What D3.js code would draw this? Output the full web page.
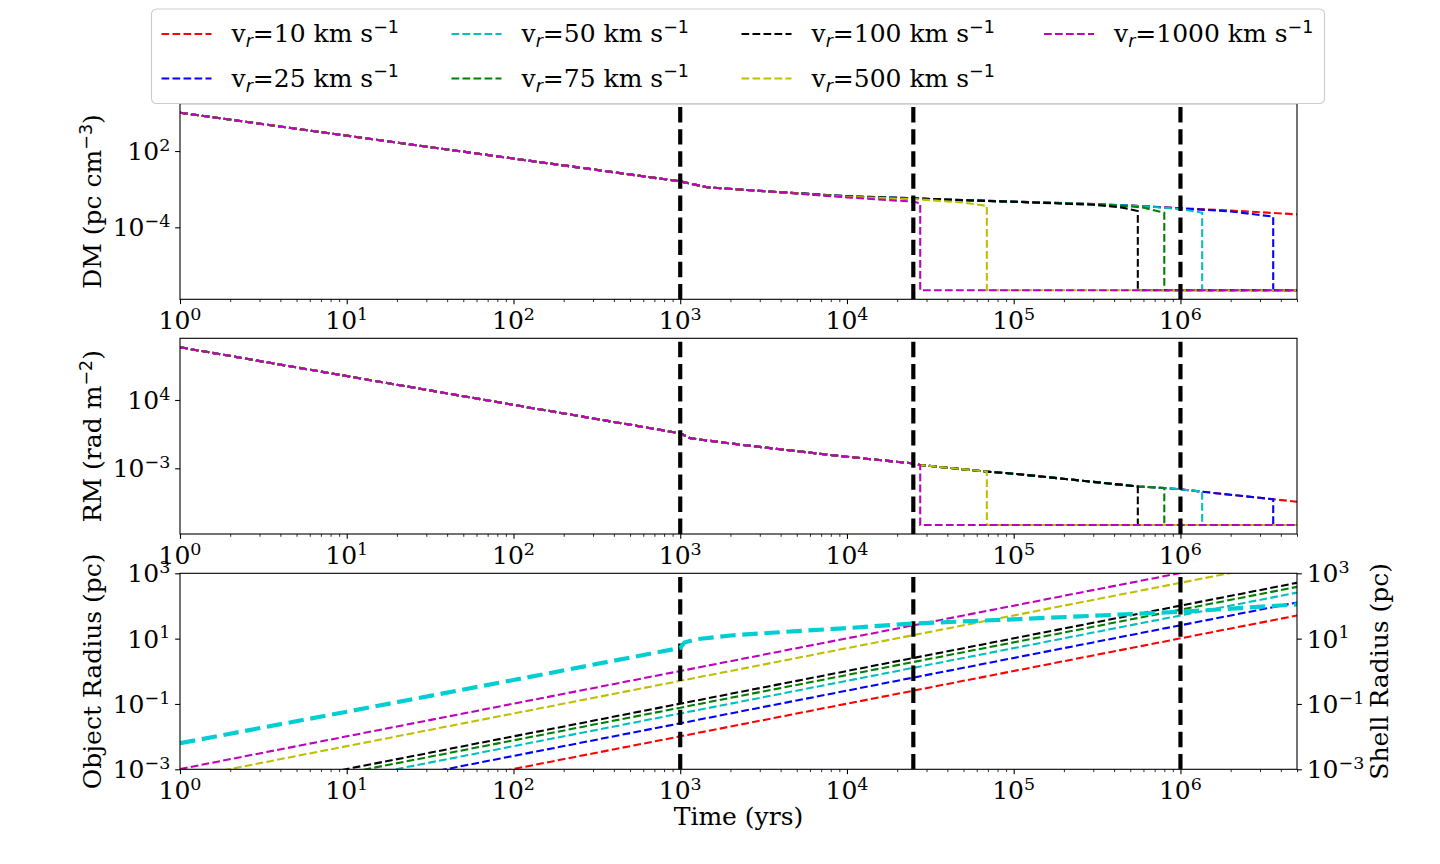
<!DOCTYPE html>
<html>
<head>
<meta charset="utf-8">
<script src="https://cdn.jsdelivr.net/npm/d3@7/dist/d3.min.js"></script>
<style>
  body { margin: 0; background: #fff; }
  text { font-family: "DejaVu Serif", serif; fill: #000; }
</style>
</head>
<body>
<svg id="chart" width="1440" height="864"></svg>
<script>
// ---- data ----
var speeds = [10, 25, 50, 75, 100, 500, 1000];          // km/s
var colors = ['#ff0000', '#0000ff', '#00bfbf', '#008000', '#000000', '#bfbf00', '#bf00bf'];
var dropTime = [null, 3.6e6, 1.35e6, 8.0e5, 5.55e5, 6.9e4, 2.75e4];   // yrs where DM/RM fall to floor
var markTimes = [1e3, 2.5e4, 1e6];
var tMax = 5e6;

// DM (pc cm^-3)
var dmFloor = 1.12e-9;
var dmShared = [[1, 1.02e5], [10, 1.62e3], [100, 25.7], [1000, 0.41], [1450, 0.141], [3600, 0.063]];
var dmTail = [
  [[1e4, 0.0282], [2.5e4, 0.0191], [5e4, 0.0138], [1e5, 0.0105], [3e5, 0.00676], [4.5e5, 0.0055], [6e5, 0.00457], [1e6, 0.00316], [2e6, 0.00209], [5e6, 0.00105]],
  [[1e4, 0.0282], [2.5e4, 0.0191], [5e4, 0.0138], [1e5, 0.0105], [3e5, 0.00676], [4.5e5, 0.0055], [6e5, 0.00457], [1e6, 0.0031], [2e6, 0.00178], [3.6e6, 0.00069]],
  [[1e4, 0.0275], [2.5e4, 0.0188], [5e4, 0.0136], [1e5, 0.0104], [3e5, 0.0067], [4.5e5, 0.0054], [6e5, 0.0045], [1e6, 0.00275], [1.35e6, 0.0014]],
  [[1e4, 0.027], [2.5e4, 0.0186], [5e4, 0.0135], [1e5, 0.0103], [3e5, 0.00646], [4.5e5, 0.005], [6e5, 0.00355], [8e5, 0.0014]],
  [[1e4, 0.0263], [2.5e4, 0.019], [5e4, 0.0135], [1e5, 0.0102], [3e5, 0.006], [4.5e5, 0.00355], [5.55e5, 0.0019]],
  [[1e4, 0.025], [2.5e4, 0.017], [5e4, 0.0089], [6.9e4, 0.0048]],
  [[1e4, 0.0224], [2.5e4, 0.0105], [2.75e4, 0.0078]]
];

// RM (rad m^-2), same curve for every speed until its drop
var rmFloor = 1.58e-9;
var rmTime = [1, 10, 100, 1000, 1150, 2300, 9000, 2.5e4, 2.75e4, 6.9e4, 1e5, 3e5, 5.55e5, 8e5, 1e6, 1.35e6, 2e6, 3.6e6, 5e6];
var rmValue = [2.51e9, 2.82e6, 3.16e3, 3.89, 1.17, 0.263, 0.0182, 3.16e-3, 2.2e-3, 4.57e-4, 2.8e-4, 4.1e-5, 1.38e-5, 9.5e-6, 7.1e-6, 4.0e-6, 1.95e-6, 6.8e-7, 3.8e-7];

// object radius (pc) at t = 1 yr and t = 5e6 yr (straight lines in log-log)
var radiusStart = [1.02e-5, 2.56e-5, 5.1e-5, 7.7e-5, 1.02e-4, 5.1e-4, 1.02e-3];
var radiusEnd = [51, 128, 256, 384, 511, 2560, 5110];

// shell radius (pc)
var shellTime = [1, 10, 100, 1000, 1060, 1250, 2000, 5000, 1e4, 2.5e4, 1e5, 1e6, 5e6];
var shellRadius = [6.3e-3, 0.058, 0.54, 5.2, 7.6, 9.6, 12.5, 17, 21, 29, 39, 66, 112];

var xTicks = [1, 10, 100, 1e3, 1e4, 1e5, 1e6];
var dmTicks = [1e-4, 1e2];
var rmTicks = [1e-3, 1e4];
var radTicks = [1e-3, 1e-1, 1e1, 1e3];

// ---- layout ----
var left = 180, right = 1297;
var fs = 25, supFs = 17.5, supRise = 9.3;
var lw = 2.08, dash = '7.7,3.3';
var panels = [
  {top: 103.6, bottom: 299.3, lo: -9.66, hi: 5.73, ticks: dmTicks},
  {top: 338.3, bottom: 534, lo: -9.73, hi: 10.32, ticks: rmTicks},
  {top: 573.3, bottom: 769.3, lo: -3, hi: 3, ticks: radTicks}
];

var svg = d3.select('#chart');
var defs = svg.append('defs');
var x = d3.scaleLog().domain([1, tMax]).range([left, right]);
var minorTicks = x.ticks().filter(function(d) {
  var e = Math.log10(d); return Math.abs(e - Math.round(e)) > 1e-9;
});

function expStr(v) {
  var e = Math.round(Math.log10(v));
  return e < 0 ? '\u2212' + (-e) : String(e);
}

function powText(sel, v) {
  sel.text('10');
  sel.append('tspan').attr('font-size', supFs).attr('dy', -supRise).text(expStr(v));
}

function styleAxis(g) {
  g.select('.domain').remove();
  g.selectAll('line').attr('stroke', '#000').attr('stroke-width', 1.1);
}

function drawPanel(p, idx) {
  var y = d3.scaleLog().domain([Math.pow(10, p.lo), Math.pow(10, p.hi)]).range([p.bottom, p.top]);
  var g = svg.append('g');
  defs.append('clipPath').attr('id', 'clip' + idx).append('rect')
    .attr('x', left).attr('y', p.top).attr('width', right - left).attr('height', p.bottom - p.top);
  var plot = g.append('g').attr('clip-path', 'url(#clip' + idx + ')');

  // x axis
  g.append('g').attr('transform', 'translate(0,' + p.bottom + ')')
    .call(d3.axisBottom(x).tickValues(xTicks).tickSize(4.86).tickFormat(''))
    .call(styleAxis);
  g.append('g').attr('transform', 'translate(0,' + p.bottom + ')')
    .call(d3.axisBottom(x).tickValues(minorTicks).tickSize(2.8).tickFormat(''))
    .call(styleAxis).selectAll('line').attr('stroke-width', 0.83);
  g.selectAll('.xlab').data(xTicks).enter().append('text')
    .attr('x', function(d) { return x(d); }).attr('y', p.bottom + 30)
    .attr('text-anchor', 'middle').attr('font-size', fs)
    .each(function(d) { powText(d3.select(this), d); });

  // y axis
  g.append('g').attr('transform', 'translate(' + left + ',0)')
    .call(d3.axisLeft(y).tickValues(p.ticks).tickSize(4.86).tickFormat(''))
    .call(styleAxis);
  g.selectAll('.ylab').data(p.ticks).enter().append('text')
    .attr('x', left - 9.7).attr('y', function(d) { return y(d) + 9; })
    .attr('text-anchor', 'end').attr('font-size', fs)
    .each(function(d) { powText(d3.select(this), d); });

  return {y: y, g: g, plot: plot};
}

function markers(P, p) {
  P.plot.selectAll('.mark').data(markTimes).enter().append('line')
    .attr('x1', function(d) { return x(d); }).attr('x2', function(d) { return x(d); })
    .attr('y1', p.bottom).attr('y2', p.top)
    .attr('stroke', '#000').attr('stroke-width', 4.17).attr('stroke-dasharray', '15.4,6.7');
}

function spines(P, p) {
  P.g.append('rect').attr('x', left).attr('y', p.top)
    .attr('width', right - left).attr('height', p.bottom - p.top)
    .attr('fill', 'none').attr('stroke', '#000').attr('stroke-width', 1.1);
}

function drawSeries(P, pts, color, width, dashes) {
  var line = d3.line().x(function(d) { return x(d[0]); }).y(function(d) { return P.y(d[1]); });
  P.plot.append('path').datum(pts).attr('d', line)
    .attr('fill', 'none').attr('stroke', color).attr('stroke-width', width)
    .attr('stroke-dasharray', dashes);
}

// ---- DM panel ----
var P1 = drawPanel(panels[0], 0);
speeds.forEach(function(v, i) {
  var pts = dmShared.concat(dmTail[i]);
  if (dropTime[i]) pts = pts.concat([[dropTime[i], dmFloor], [tMax, dmFloor]]);
  drawSeries(P1, pts, colors[i], lw, dash);
});
markers(P1, panels[0]);
spines(P1, panels[0]);

// ---- RM panel ----
var P2 = drawPanel(panels[1], 1);
speeds.forEach(function(v, i) {
  var pts = [];
  rmTime.forEach(function(t, k) {
    if (!dropTime[i] || t <= dropTime[i]) pts.push([t, rmValue[k]]);
  });
  if (dropTime[i]) pts = pts.concat([[dropTime[i], rmFloor], [tMax, rmFloor]]);
  drawSeries(P2, pts, colors[i], lw, dash);
});
markers(P2, panels[1]);
spines(P2, panels[1]);

// ---- radius panel ----
var P3 = drawPanel(panels[2], 2);
speeds.forEach(function(v, i) {
  drawSeries(P3, [[1, radiusStart[i]], [tMax, radiusEnd[i]]], colors[i], lw, dash);
});
markers(P3, panels[2]);
drawSeries(P3, shellTime.map(function(t, k) { return [t, shellRadius[k]]; }), '#00ced1', 4.17, '15.4,6.7');
// right axis (shell radius)
P3.g.append('g').attr('transform', 'translate(' + right + ',0)')
  .call(d3.axisRight(P3.y).tickValues(radTicks).tickSize(4.86).tickFormat(''))
  .call(styleAxis);
P3.g.selectAll('.rlab').data(radTicks).enter().append('text')
  .attr('x', right + 9.7).attr('y', function(d) { return P3.y(d) + 9; })
  .attr('font-size', fs)
  .each(function(d) { powText(d3.select(this), d); });
spines(P3, panels[2]);

// ---- axis titles ----
function yTitle(xpos, p, main, sup, tail) {
  var t = svg.append('text').attr('font-size', fs).attr('text-anchor', 'middle')
    .attr('transform', 'translate(' + xpos + ',' + ((p.top + p.bottom) / 2) + ') rotate(-90)')
    .text(main);
  if (sup) {
    t.append('tspan').attr('font-size', supFs).attr('dy', -supRise)
      .style('font-family', '"DejaVu Sans", sans-serif').text(sup);
    t.append('tspan').attr('font-size', fs).attr('dy', supRise).text(tail);
  }
}
yTitle(101, panels[0], 'DM (pc cm', '\u22123', ')');
yTitle(101, panels[1], 'RM (rad m', '\u22122', ')');
yTitle(101, panels[2], 'Object Radius (pc)');
yTitle(1388, panels[2], 'Shell Radius (pc)');
svg.append('text').attr('x', (left + right) / 2).attr('y', 825)
  .attr('text-anchor', 'middle').attr('font-size', fs).text('Time (yrs)');

// ---- legend ----
var leg = svg.append('g');
leg.append('rect').attr('x', 151.5).attr('y', 9).attr('width', 1173).attr('height', 94.5)
  .attr('rx', 5).attr('fill', '#fff').attr('fill-opacity', 0.8)
  .attr('stroke', '#cccccc').attr('stroke-width', 1.1);
var colX = [161.5, 451.5, 741.5, 1044];
var rowY = [34, 78.5];
speeds.forEach(function(v, i) {
  var cx = colX[Math.floor(i / 2)], cy = rowY[i % 2];
  leg.append('line').attr('x1', cx).attr('x2', cx + 50).attr('y1', cy).attr('y2', cy)
    .attr('stroke', colors[i]).attr('stroke-width', lw).attr('stroke-dasharray', dash);
  var t = leg.append('text').attr('x', cx + 70).attr('y', cy + 8).attr('font-size', fs).text('v');
  t.append('tspan').attr('font-size', supFs).attr('dy', 5).attr('font-style', 'italic')
    .style('font-family', '"DejaVu Sans", sans-serif').text('r');
  t.append('tspan').attr('font-size', fs).attr('dy', -5).text('=' + v + ' km s');
  t.append('tspan').attr('font-size', supFs).attr('dy', -supRise)
    .style('font-family', '"DejaVu Sans", sans-serif').text('\u22121');
});
</script>
</body>
</html>
